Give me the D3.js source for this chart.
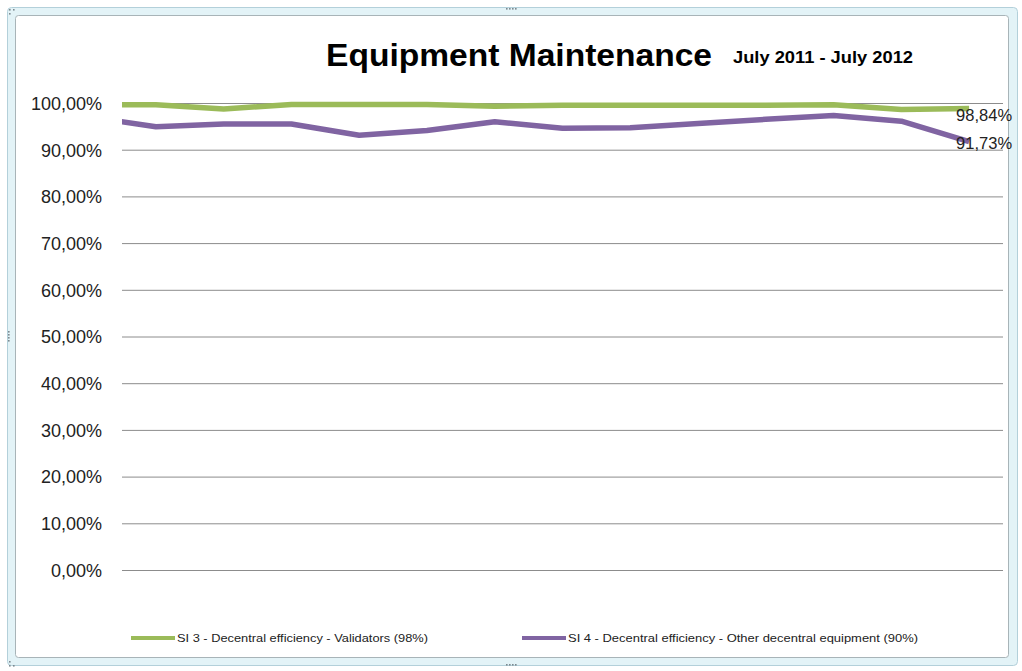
<!DOCTYPE html>
<html>
<head>
<meta charset="utf-8">
<script src="https://cdn.jsdelivr.net/npm/d3@7"></script>
<style>
  html, body { margin: 0; padding: 0; background: #ffffff; }
  svg { display: block; }
</style>
</head>
<body>
<svg id="chart" width="1022" height="671"></svg>
<script>
// ---- data ----
const months = ["Jul 2011","Aug 2011","Sep 2011","Oct 2011","Nov 2011","Dec 2011","Jan 2012","Feb 2012","Mar 2012","Apr 2012","May 2012","Jun 2012","Jul 2012"];
const priorValidators = 99.6;   // value before the first month (line enters from the left edge)
const priorOther = 97.1;
const validators = [99.6, 98.7, 99.7, 99.7, 99.7, 99.3, 99.5, 99.5, 99.5, 99.5, 99.6, 98.6, 98.84];
const otherEquip = [94.9, 95.5, 95.5, 93.1, 94.1, 96.0, 94.6, 94.7, 95.6, 96.5, 97.3, 96.1, 91.73];
const yTicks = [0, 10, 20, 30, 40, 50, 60, 70, 80, 90, 100];
const seriesNames = ["SI 3 - Decentral efficiency - Validators (98%)", "SI 4 - Decentral efficiency - Other decentral equipment (90%)"];
const seriesColors = ["#9BBB59", "#8064A2"];
const titleText = "Equipment Maintenance";
const subtitleText = "July 2011 - July 2012";

const svg = d3.select("#chart");
const W = 1022, H = 671;

// ---- frame ----
svg.append("rect").attr("x", 7.5).attr("y", 7.5).attr("width", 1010).attr("height", 658)
  .attr("rx", 4).attr("fill", "#e3f3f7").attr("stroke", "#b3d0da");
svg.append("rect").attr("x", 15.5).attr("y", 15.5).attr("width", 993).attr("height", 642)
  .attr("rx", 3).attr("fill", "#ffffff").attr("stroke", "#a8b4b8");
// grips
const gripDots = (cx, cy, horiz) => {
  for (let i = 0; i < 4; i++) {
    svg.append("rect")
      .attr("x", horiz ? cx - 6 + i * 3 : cx - 1)
      .attr("y", horiz ? cy - 1 : cy - 6 + i * 3)
      .attr("width", 1.6).attr("height", 1.6).attr("fill", "#7d8a90");
  }
};
gripDots(512, 9, true);
gripDots(512, 665, true);
gripDots(9, 337, false);
[[9,9],[9,13],[13,9]].forEach(([x,y]) => svg.append("rect").attr("x",x).attr("y",y).attr("width",1.6).attr("height",1.6).attr("fill","#7d8a90"));
[[9,661],[9,665],[13,665]].forEach(([x,y]) => svg.append("rect").attr("x",x).attr("y",y).attr("width",1.6).attr("height",1.6).attr("fill","#7d8a90"));

// ---- scales ----
const plot = { left: 122, right: 1003, top: 103, bottom: 570 };
const x = d3.scaleBand().domain(months).range([plot.left, plot.right]);
const cx = m => x(m) + x.bandwidth() / 2;
const y = d3.scaleLinear().domain([0, 100]).range([plot.bottom, plot.top]);

// ---- gridlines + y axis ----
const yAxis = d3.axisLeft(y).tickValues(yTicks)
  .tickSize(-(plot.right - plot.left))
  .tickPadding(20)
  .tickFormat(d => d3.format(".2f")(d).replace(".", ",") + "%");
const gy = svg.append("g").attr("transform", `translate(${plot.left},0)`).call(yAxis);
gy.select(".domain").remove();
gy.selectAll(".tick line").attr("stroke", "#8c8c8c").attr("stroke-width", 1);
gy.selectAll(".tick text")
  .attr("fill", "#222").attr("font-family", "Liberation Sans, Arial, sans-serif")
  .attr("font-size", "18px").attr("x", -20).attr("dy", "0.35em");

// ---- lines ----
svg.append("clipPath").attr("id", "plotclip").append("rect")
  .attr("x", plot.left).attr("y", 0).attr("width", plot.right - plot.left).attr("height", H);

const step = x.step();
function buildPoints(prior, vals) {
  const pts = [{ px: cx(months[0]) - step, v: prior }];
  vals.forEach((v, i) => pts.push({ px: cx(months[i]), v }));
  return pts;
}
const line = d3.line().x(d => d.px).y(d => y(d.v));
const seriesData = [buildPoints(priorValidators, validators), buildPoints(priorOther, otherEquip)];
const lg = svg.append("g").attr("clip-path", "url(#plotclip)");
seriesData.forEach((pts, i) => {
  lg.append("path").datum(pts)
    .attr("d", line)
    .attr("fill", "none")
    .attr("stroke", seriesColors[i])
    .attr("stroke-width", 5.5)
    .attr("stroke-linejoin", "round")
    .attr("stroke-linecap", "butt");
});

// ---- data labels on last points ----
const lastIdx = months.length - 1;
const labelFmt = v => d3.format(".2f")(v).replace(".", ",") + "%";
const lastVals = [validators[lastIdx], otherEquip[lastIdx]];
const labelDy = [13, 7];
lastVals.forEach((v, i) => {
  svg.append("text")
    .attr("x", cx(months[lastIdx]) - 13)
    .attr("y", y(v) + labelDy[i])
    .attr("font-family", "Liberation Sans, Arial, sans-serif")
    .attr("font-size", "16.5px")
    .attr("fill", "#222")
    .text(labelFmt(v));
});

// ---- title ----
svg.append("text")
  .attr("x", 326).attr("y", 66)
  .attr("font-family", "Liberation Sans, Arial, sans-serif")
  .attr("font-weight", "bold").attr("font-size", "31px")
  .attr("fill", "#000")
  .attr("textLength", 386).attr("lengthAdjust", "spacingAndGlyphs")
  .text(titleText);
svg.append("text")
  .attr("x", 733).attr("y", 63)
  .attr("font-family", "Liberation Sans, Arial, sans-serif")
  .attr("font-weight", "bold").attr("font-size", "16px")
  .attr("fill", "#000")
  .attr("textLength", 180).attr("lengthAdjust", "spacingAndGlyphs")
  .text(subtitleText);

// ---- legend ----
const legendItems = [
  { x0: 131, textLen: 251 },
  { x0: 522, textLen: 350 }
];
legendItems.forEach((it, i) => {
  svg.append("line")
    .attr("x1", it.x0).attr("x2", it.x0 + 44)
    .attr("y1", 638).attr("y2", 638)
    .attr("stroke", seriesColors[i]).attr("stroke-width", 4);
  svg.append("text")
    .attr("x", it.x0 + 46).attr("y", 642)
    .attr("font-family", "Liberation Sans, Arial, sans-serif")
    .attr("font-size", "11.5px").attr("fill", "#222")
    .attr("textLength", it.textLen).attr("lengthAdjust", "spacingAndGlyphs")
    .text(seriesNames[i]);
});
</script>
</body>
</html>
